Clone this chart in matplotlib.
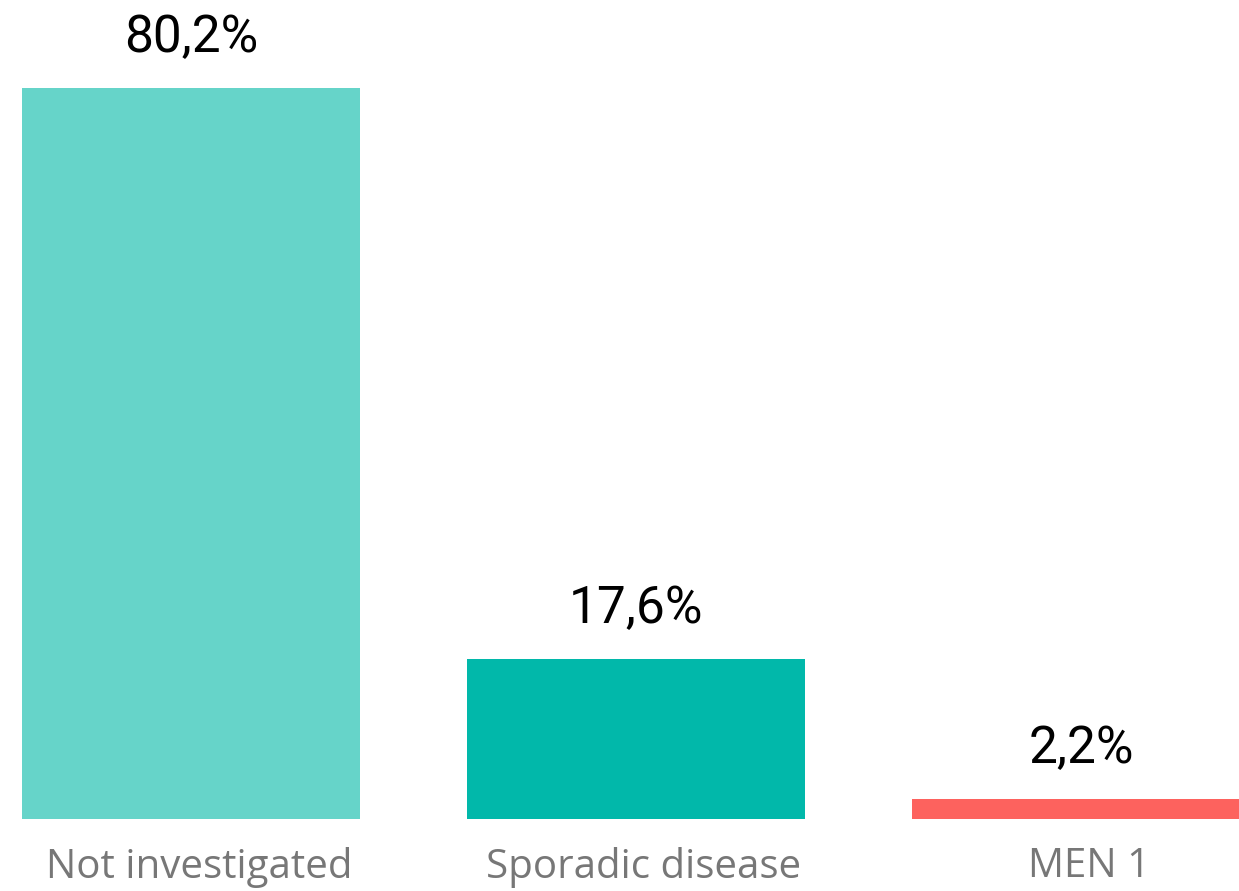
import numpy as np
import matplotlib.pyplot as plt
from matplotlib.transforms import ScaledTranslation

categories = ['Not investigated', 'Sporadic disease', 'MEN 1']
values = [80.2, 17.6, 2.2]
colors = ['#66D4C9', '#01B8AA', '#FD625E']

fig = plt.figure(figsize=(12.39, 8.91), dpi=100)
ax = fig.add_axes([0, 0.0808, 1, 0.9192])

x = np.arange(len(categories))
bars = ax.bar(x, values, width=0.76, color=colors)

for xi, v in zip(x, values):
    lbl = f'{v:.1f}%'.replace('.', ',')
    ax.annotate(lbl, (xi, v), xytext=(0, 18), textcoords='offset points',
                ha='center', va='bottom', fontsize=37, family='Roboto',
                color='black')

ax.set_xlim(-0.429, 2.355)
ax.set_ylim(0, 89.85)
ax.set_xticks(x)
ax.set_xticklabels(categories, fontsize=29, family='Open Sans', color='#777777')
ax.tick_params(axis='x', length=0, pad=20)
# category labels sit a little right of the bar centres in the original
shift = ScaledTranslation(0.08, 0, fig.dpi_scale_trans)
for t in ax.get_xticklabels():
    t.set_transform(t.get_transform() + shift)
ax.set_yticks([])
for s in ax.spines.values():
    s.set_visible(False)

fig.savefig('out.png', dpi=100)
